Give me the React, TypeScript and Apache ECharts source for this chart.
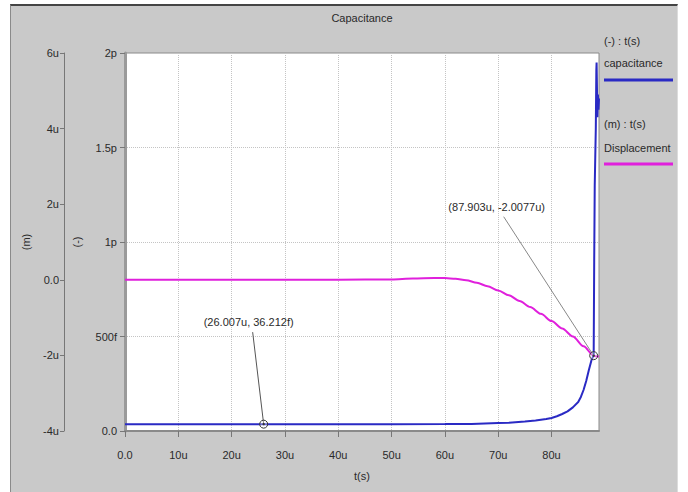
import React, { useEffect, useRef } from 'react';
import * as echarts from 'echarts';

// time axis in microseconds (u)
const xTicks = [0, 10, 20, 30, 40, 50, 60, 70, 80];
const capTickLabels: Record<number, string> = { 0: '0.0', 500: '500f', 1000: '1p', 1500: '1.5p', 2000: '2p' };
const dispTickLabels: Record<number, string> = { [-4]: '-4u', [-2]: '-2u', 0: '0.0', 2: '2u', 4: '4u', 6: '6u' };

// capacitance: time (u) and value (femto-farad)
const capTime = [0, 10, 20, 30, 40, 50, 60, 65, 70, 72, 75, 77, 79, 80, 81, 82, 83, 84, 85, 85.5, 86, 86.5, 87, 87.5, 87.9, 88.0, 88.1, 88.2, 88.3, 88.4, 88.45, 88.5, 88.55, 88.6, 88.7, 88.8, 88.9];
const capValue = [36.2, 36.2, 36.2, 36.2, 36.2, 36.2, 36.4, 37, 42, 44, 50, 56, 63, 69, 78, 90, 104, 125, 153, 180, 217, 265, 323, 376, 400, 900, 1300, 1450, 1600, 1910, 1950, 1850, 1750, 1660, 1780, 1700, 1760];

// displacement: time (u) and value (micro-metre)
const dispTime = [0, 10, 20, 30, 40, 50, 54, 58, 60, 62, 64, 66, 68, 70, 72, 74, 76, 78, 80, 82, 84, 86, 87.903, 88.3, 88.9];
const dispValue = [0, 0, 0, 0, 0, 0.01, 0.035, 0.045, 0.045, 0.03, -0.01, -0.08, -0.17, -0.28, -0.41, -0.56, -0.72, -0.9, -1.09, -1.29, -1.5, -1.76, -2.0077, -2.02, -2.03];

// annotated points
const ann1 = { t: 26.007, v: 36.212, label: '(26.007u, 36.212f)' };
const ann2 = { t: 87.903, v: -2.0077, label: '(87.903u, -2.0077u)' };

const FONT = 'Liberation Sans, Arial, sans-serif';
const TXT = '#2a2a2a';

export default function App() {
  const ref = useRef<HTMLDivElement>(null);
  useEffect(() => {
    document.body.style.margin = '0';
    const chart = echarts.init(ref.current!, null, { renderer: 'svg' });
    const capData = capTime.map((t, i) => [t, capValue[i]]);
    const dispData = dispTime.map((t, i) => [t, dispValue[i]]);
    const axisLabelBase = { color: TXT, fontSize: 11, fontFamily: FONT };
    chart.setOption({
      animation: false,
      backgroundColor: 'transparent',
      textStyle: { fontFamily: FONT },
      grid: {
        left: 125, right: 89, top: 53, bottom: 61,
        show: true, backgroundColor: '#ffffff', borderColor: '#8a8a8a', borderWidth: 1,
      },
      xAxis: {
        type: 'value', min: 0, max: 88.9, interval: 10, offset: 4,
        name: 't(s)', nameLocation: 'middle', nameGap: 35,
        nameTextStyle: { color: TXT, fontSize: 11, fontFamily: FONT },
        axisLine: { show: true, lineStyle: { color: '#8a8a8a', width: 2 } },
        axisTick: { show: true, length: 6, lineStyle: { color: '#777' }, customValues: xTicks },
        axisLabel: {
          ...axisLabelBase, margin: 14, customValues: xTicks,
          formatter: (v: number) => (v === 0 ? '0.0' : v % 10 === 0 ? v + 'u' : ''),
        },
        splitLine: { show: true, lineStyle: { color: '#c4c4c4', type: 'dotted', width: 1 } },
      },
      yAxis: [
        {
          type: 'value', min: 0, max: 2000, interval: 500, position: 'left', offset: 1,
          name: '(-)', nameLocation: 'middle', nameRotate: 90, nameGap: 42,
          nameTextStyle: { color: TXT, fontSize: 11, fontFamily: FONT },
          axisLine: { show: true, lineStyle: { color: '#9a9a9a', width: 3 } },
          axisTick: { show: true, length: 5, lineStyle: { color: '#777' } },
          axisLabel: { ...axisLabelBase, margin: 7, formatter: (v: number) => capTickLabels[v] ?? '' },
          splitLine: { show: true, lineStyle: { color: '#c4c4c4', type: 'dotted', width: 1 } },
        },
        {
          type: 'value', min: -4, max: 6, interval: 2, position: 'left', offset: 61,
          name: '(m)', nameLocation: 'middle', nameRotate: 90, nameGap: 33,
          nameTextStyle: { color: TXT, fontSize: 11, fontFamily: FONT },
          axisLine: { show: true, lineStyle: { color: '#777', width: 1 } },
          axisTick: { show: true, length: 4, lineStyle: { color: '#777' } },
          axisLabel: { ...axisLabelBase, margin: 5, formatter: (v: number) => dispTickLabels[v] ?? '' },
          splitLine: { show: false },
        },
      ],
      series: [
        {
          name: 'capacitance', type: 'line', yAxisIndex: 0, data: capData, showSymbol: false,
          symbol: 'none', lineStyle: { color: '#2a2ac4', width: 2 }, z: 3,
        },
        {
          name: 'Displacement', type: 'line', yAxisIndex: 1, data: dispData, showSymbol: false,
          symbol: 'none', smooth: 0.3, smoothMonotone: 'x', lineStyle: { color: '#e020dc', width: 2 }, z: 2,
        },
      ],
    });

    const p1 = chart.convertToPixel({ xAxisIndex: 0, yAxisIndex: 0 }, [ann1.t, ann1.v]) as number[];
    const p2 = chart.convertToPixel({ xAxisIndex: 0, yAxisIndex: 1 }, [ann2.t, ann2.v]) as number[];
    const txt = (x: number, y: number, text: string, align: string = 'left') => ({
      type: 'text', x, y,
      style: { text, fill: TXT, fontSize: 11, fontFamily: FONT, textAlign: align, textVerticalAlign: 'middle' },
      z: 10,
    });
    const marker = (p: number[]) => [
      { type: 'circle', shape: { cx: p[0], cy: p[1], r: 4 }, style: { fill: 'rgba(255,255,255,0.3)', stroke: '#333', lineWidth: 1 }, z: 11 },
      { type: 'circle', shape: { cx: p[0], cy: p[1], r: 1.2 }, style: { fill: '#333' }, z: 11 },
    ];
    chart.setOption({
      graphic: [
        txt(362, 18, 'Capacitance', 'center'),
        txt(604, 41, '(-) : t(s)'),
        txt(604, 63, 'capacitance'),
        { type: 'line', shape: { x1: 604, y1: 80, x2: 673, y2: 80 }, style: { stroke: '#2a2ac4', lineWidth: 3 }, z: 10 },
        txt(604, 124, '(m) : t(s)'),
        txt(604, 148, 'Displacement'),
        { type: 'line', shape: { x1: 604, y1: 164, x2: 673, y2: 164 }, style: { stroke: '#e020dc', lineWidth: 3 }, z: 10 },
        // annotation 1
        txt(p1[0] - 15, p1[1] - 102, ann1.label, 'center'),
        { type: 'line', shape: { x1: p1[0] - 11, y1: p1[1] - 92, x2: p1[0], y2: p1[1] }, style: { stroke: '#555', lineWidth: 1 }, z: 10 },
        ...marker(p1),
        // annotation 2
        txt(p2[0] - 97, p2[1] - 149, ann2.label, 'center'),
        { type: 'line', shape: { x1: p2[0] - 90, y1: p2[1] - 139, x2: p2[0], y2: p2[1] }, style: { stroke: '#888', lineWidth: 1 }, z: 10 },
        ...marker(p2),
      ],
    });
    return () => chart.dispose();
  }, []);

  return (
    <div style={{ position: 'relative', width: 688, height: 492, background: '#ffffff', overflow: 'hidden' }}>
      <div
        style={{
          position: 'absolute', left: 10, top: 4, width: 666, height: 488, background: '#c9c9c9',
          borderTop: '2px solid #444', borderLeft: '1px solid #8a8a8a', borderRight: '1px solid #dcdcdc',
        }}
      />
      <div ref={ref} style={{ position: 'absolute', left: 0, top: 0, width: 688, height: 492 }} />
    </div>
  );
}
